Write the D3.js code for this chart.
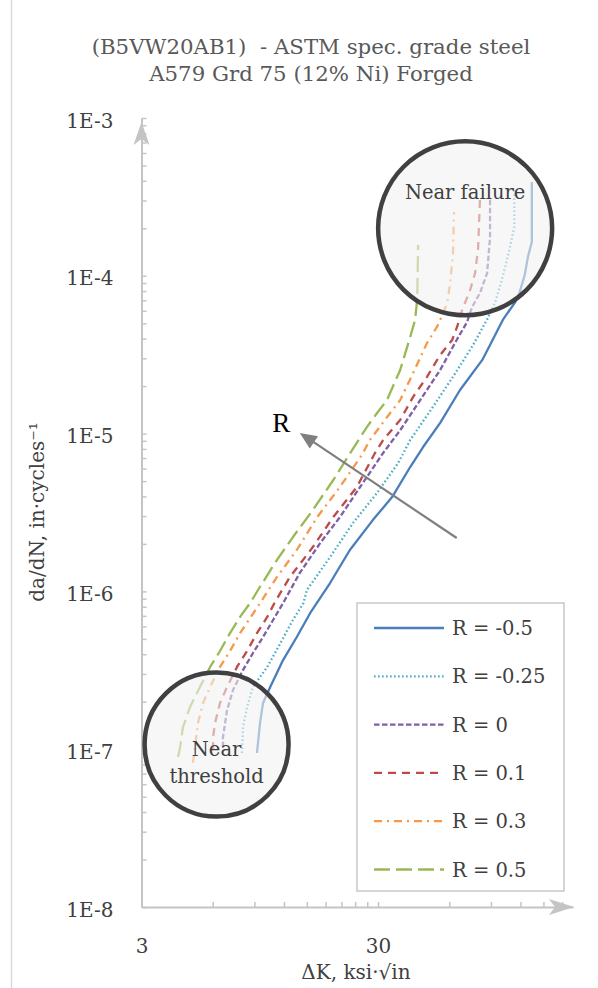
<!DOCTYPE html>
<html><head><meta charset="utf-8">
<script src="https://cdn.jsdelivr.net/npm/d3@7"></script>
<style>body{margin:0;background:#fff}svg{display:block}</style>
</head><body>
<svg id="c" width="598" height="988"></svg>
<script>
// ---------- data ----------
const titleLines = ["(B5VW20AB1)  - ASTM spec. grade steel", "A579 Grd 75 (12% Ni) Forged"];
const seriesNames = ["R = -0.5", "R = -0.25", "R = 0", "R = 0.1", "R = 0.3", "R = 0.5"];

const dK_Rm050 = [9.23, 9.51, 9.79, 10.5, 11.9, 13.6, 15.5, 18.8, 22.8, 28.5, 34.4, 41.0, 46.5, 54.9, 66.6, 82.6, 89.2, 101, 114, 119, 125, 129, 134, 134];
const da_Rm050 = [9.46e-8, 1.47e-7, 1.96e-7, 2.48e-7, 3.67e-7, 5.14e-7, 7.30e-7, 1.13e-6, 1.83e-6, 2.83e-6, 3.96e-6, 6.14e-6, 8.22e-6, 1.17e-5, 1.89e-5, 2.92e-5, 3.64e-5, 5.25e-5, 6.82e-5, 7.88e-5, 1.01e-4, 1.32e-4, 1.64e-4, 3.93e-4];

const dK_Rm025 = [7.98, 8.06, 8.38, 8.87, 10.2, 11.6, 13.1, 14.5, 15.0, 18.8, 23.5, 29.7, 36.5, 41.0, 51.2, 62.2, 75.6, 86.5, 93.6, 100, 106, 113, 113];
const da_Rm025 = [9.46e-8, 1.38e-7, 1.85e-7, 2.48e-7, 3.32e-7, 4.71e-7, 6.59e-7, 8.43e-7, 1.02e-6, 1.65e-6, 2.71e-6, 4.21e-6, 6.52e-6, 9.10e-6, 1.48e-5, 2.29e-5, 3.64e-5, 5.25e-5, 6.73e-5, 9.40e-5, 1.32e-4, 2.04e-4, 3.60e-4];

const dK_R000 = [6.63, 6.63, 6.90, 7.31, 8.06, 8.88, 9.79, 10.8, 11.9, 14.0, 17.1, 20.7, 25.2, 31.5, 37.2, 45.2, 54.9, 64.1, 71.3, 74.9, 80.9, 86.7, 89.2, 89.2];
const da_R000 = [1.03e-7, 1.19e-7, 1.77e-7, 2.37e-7, 3.18e-7, 4.07e-7, 5.14e-7, 6.59e-7, 8.43e-7, 1.31e-6, 2.03e-6, 2.96e-6, 4.59e-6, 7.53e-6, 1.05e-5, 1.63e-5, 2.53e-5, 3.86e-5, 5.09e-5, 6.34e-5, 7.78e-5, 1.04e-4, 1.76e-4, 3.16e-4];

const dK_R010 = [6.02, 6.02, 6.14, 6.44, 6.90, 7.60, 8.38, 9.23, 10.2, 11.0, 12.7, 15.9, 19.4, 24.4, 29.1, 31.5, 37.2, 42.2, 48.3, 54.9, 61.7, 64.7, 68.0, 73.5, 77.1, 79.4, 80.9];
const da_R010 = [9.89e-8, 1.19e-7, 1.47e-7, 1.96e-7, 2.48e-7, 3.32e-7, 4.19e-7, 5.44e-7, 6.89e-7, 8.57e-7, 1.23e-6, 1.91e-6, 2.96e-6, 4.59e-6, 7.53e-6, 9.10e-6, 1.22e-5, 1.71e-5, 2.29e-5, 3.15e-5, 3.92e-5, 4.74e-5, 6.07e-5, 8.13e-5, 1.04e-4, 1.48e-4, 3.11e-4];

const dK_R030 = [4.95, 5.05, 5.20, 5.46, 5.85, 6.44, 7.10, 7.83, 8.63, 9.51, 11.2, 13.6, 16.6, 20.7, 25.6, 27.7, 32.7, 37.2, 42.2, 48.3, 53.2, 54.9, 58.8, 60.5, 62.2, 62.8];
const da_R030 = [8.18e-8, 1.03e-7, 1.47e-7, 1.96e-7, 2.48e-7, 3.32e-7, 4.19e-7, 5.44e-7, 6.78e-7, 8.43e-7, 1.23e-6, 1.83e-6, 2.96e-6, 4.59e-6, 7.31e-6, 9.10e-6, 1.27e-5, 1.63e-5, 2.42e-5, 3.75e-5, 4.74e-5, 5.25e-5, 6.73e-5, 8.99e-5, 1.40e-4, 2.54e-4];

const dK_R050 = [4.28, 4.37, 4.49, 4.81, 5.30, 5.85, 6.44, 7.10, 7.83, 8.63, 9.51, 11.2, 13.1, 15.9, 19.4, 23.3, 26.9, 29.7, 32.7, 37.2, 41.0, 43.0, 43.9, 44.3];
const da_R050 = [8.93e-8, 1.03e-7, 1.38e-7, 1.85e-7, 2.48e-7, 3.32e-7, 4.19e-7, 5.44e-7, 6.89e-7, 8.43e-7, 1.07e-6, 1.58e-6, 2.21e-6, 3.28e-6, 5.08e-6, 7.87e-6, 1.10e-5, 1.35e-5, 1.63e-5, 2.53e-5, 4.09e-5, 5.25e-5, 7.03e-5, 1.57e-4];

const xMajorTicks = [3, 30];
const xTickLabels = ["3", "30"];
const yMajorTicks = [1e-3, 1e-4, 1e-5, 1e-6, 1e-7, 1e-8];
const yTickLabels = ["1E-3", "1E-4", "1E-5", "1E-6", "1E-7", "1E-8"];

// annotation anchors (data units)
const failureCircle = {dK: 70.0, da: 2.0e-4, label: "Near failure", labelDa: 3.4e-4};
const thresholdCircle = {dK: 6.23, da: 1.07e-7, label: ["Near", "threshold"], labelDa: [1.0e-7, 6.7e-8]};
const rArrow = {fromDK: 64.5, fromDa: 2.18e-6, toDK: 14.0, toDa: 1.01e-5, label: "R", labelDK: 11.7, labelDa: 1.17e-5};

// ---------- styles ----------
const colors = ["#4a7ebb", "#4bacc6", "#7f5fa6", "#be4b48", "#f59a4a", "#98b954"];
const dashes = [null, "1.6,2.4", "5.5,2.5", "8,6", "8,5,2,5", "16,6"];
const FONT = "'DejaVu Serif', 'Liberation Serif', serif";
const AXIS_COL = "#c4c4c4";

const svg = d3.select("#c");
const x = d3.scaleLog().domain([3, 200]).range([141.5, 573]);
const y = d3.scaleLog().domain([1e-8, 1e-3]).range([907, 118]);

// left chart-area border
svg.append("line").attr("x1", 11.5).attr("x2", 11.5).attr("y1", 0).attr("y2", 988)
  .attr("stroke", "#d9d9d9").attr("stroke-width", 1.5);

// title
svg.append("g").selectAll("text").data(titleLines).join("text")
  .attr("x", 311).attr("y", (d, i) => 54 + i * 27)
  .attr("text-anchor", "middle").attr("font-family", FONT).attr("font-size", 21.3)
  .style("white-space", "pre")
  .attr("fill", "#595959").text(d => d);

// minor tick values
const yMinor = [];
for (let k = -8; k <= -4; k++) for (let m = 2; m <= 9; m++) yMinor.push(m * Math.pow(10, k));
const xMinor = [];
for (let k = 0; k <= 1; k++) for (let m = 2; m <= 9; m++) { const v = 3 * m * Math.pow(10, k); if (v < 200) xMinor.push(v); }

// Y axis
const yAxis = d3.axisLeft(y).tickValues(yMajorTicks.concat(yMinor)).tickSize(-5).tickSizeOuter(0).tickPadding(28)
  .tickFormat(d => { const i = yMajorTicks.findIndex(t => Math.abs(t - d) / t < 1e-6); return i >= 0 ? yTickLabels[i] : ""; });
const gy = svg.append("g").attr("transform", "translate(141.5,0)").call(yAxis);
// X axis
const xAxis = d3.axisBottom(x).tickValues(xMajorTicks.concat(xMinor)).tickSize(-5).tickSizeOuter(0).tickPadding(32)
  .tickFormat(d => { const i = xMajorTicks.findIndex(t => Math.abs(t - d) / t < 1e-6); return i >= 0 ? xTickLabels[i] : ""; });
const gx = svg.append("g").attr("transform", "translate(0,907)").call(xAxis);

[gx, gy].forEach(g => {
  g.select(".domain").attr("stroke", AXIS_COL).attr("stroke-width", 2);
  g.selectAll(".tick line").attr("stroke", AXIS_COL).attr("stroke-width", 1.5);
  g.selectAll(".tick text").attr("font-family", FONT).attr("font-size", 20).attr("fill", "#404040");
});
gy.selectAll(".tick text").attr("dy", "0.45em");

// axis arrowheads (stealth)
svg.append("path")
  .attr("d", `M${x.range()[1] + 1},${y.range()[0]} L${x.range()[1] - 24},${y.range()[0] - 8} L${x.range()[1] - 18},${y.range()[0]} L${x.range()[1] - 24},${y.range()[0] + 8} Z`)
  .attr("fill", AXIS_COL);
svg.append("path")
  .attr("d", `M141.5,${y.range()[1] + 4} L133.5,${y.range()[1] + 27} L141.5,${y.range()[1] + 21} L149.5,${y.range()[1] + 27} Z`)
  .attr("fill", AXIS_COL);

// axis titles
svg.append("text").attr("x", 356).attr("y", 979).attr("text-anchor", "middle")
  .attr("font-family", FONT).attr("font-size", 20).attr("fill", "#404040").text("ΔK, ksi·√in");
svg.append("text").attr("transform", "translate(44,512) rotate(-90)").attr("text-anchor", "middle")
  .attr("font-family", FONT).attr("font-size", 20).attr("fill", "#404040").text("da/dN, in·cycles⁻¹");

// series
const seriesDK = [dK_Rm050, dK_Rm025, dK_R000, dK_R010, dK_R030, dK_R050];
const seriesDa = [da_Rm050, da_Rm025, da_R000, da_R010, da_R030, da_R050];
const series = seriesNames.map((n, i) => ({name: n, pts: seriesDK[i].map((k, j) => [k, seriesDa[i][j]]), color: colors[i], dash: dashes[i]}));
const line = d3.line().x(d => x(d[0])).y(d => y(d[1]));
svg.append("g").selectAll("path").data(series).join("path")
  .attr("d", d => line(d.pts)).attr("fill", "none").attr("stroke", d => d.color)
  .attr("stroke-width", 2.3).attr("stroke-dasharray", d => d.dash)
  .attr("stroke-linejoin", "round");

// circles
function circ(c, r) {
  svg.append("circle").attr("cx", x(c.dK)).attr("cy", y(c.da)).attr("r", r)
    .attr("fill", "#f2f2f2").attr("fill-opacity", 0.6).attr("stroke", "#404040").attr("stroke-width", 4.5);
}
circ(failureCircle, 87);
circ(thresholdCircle, 72);
svg.append("text").attr("x", x(failureCircle.dK)).attr("y", y(failureCircle.labelDa)).attr("dy", "0.35em")
  .attr("text-anchor", "middle").attr("font-family", FONT).attr("font-size", 19.5).attr("fill", "#404040").text(failureCircle.label);
svg.append("g").selectAll("text").data(thresholdCircle.label).join("text")
  .attr("x", x(thresholdCircle.dK)).attr("y", (d, i) => y(thresholdCircle.labelDa[i])).attr("dy", "0.35em")
  .attr("text-anchor", "middle").attr("font-family", FONT).attr("font-size", 19.5).attr("fill", "#404040").text(d => d);

// R arrow
const ax1 = x(rArrow.fromDK), ay1 = y(rArrow.fromDa), ax2 = x(rArrow.toDK), ay2 = y(rArrow.toDa);
const ang = Math.atan2(ay2 - ay1, ax2 - ax1);
const hl = 17, hw = 7.5;
const bx = ax2 - hl * Math.cos(ang), by = ay2 - hl * Math.sin(ang);
svg.append("line").attr("x1", ax1).attr("y1", ay1).attr("x2", bx + 3 * Math.cos(ang)).attr("y2", by + 3 * Math.sin(ang))
  .attr("stroke", "#808080").attr("stroke-width", 2.2);
svg.append("path").attr("d", `M${ax2},${ay2} L${bx - hw * Math.sin(ang)},${by + hw * Math.cos(ang)} L${bx + hw * Math.sin(ang)},${by - hw * Math.cos(ang)} Z`)
  .attr("fill", "#808080");
svg.append("text").attr("x", x(rArrow.labelDK)).attr("y", y(rArrow.labelDa)).attr("dy", "0.35em")
  .attr("text-anchor", "middle").attr("font-family", "'Liberation Serif', serif").attr("font-size", 27).attr("fill", "#000").text(rArrow.label);

// legend
const lg = svg.append("g");
lg.append("rect").attr("x", 357).attr("y", 603).attr("width", 207).attr("height", 288)
  .attr("fill", "#fff").attr("stroke", "#c8c8c8").attr("stroke-width", 1.5);
const rows = lg.selectAll("g.row").data(series).join("g").attr("class", "row")
  .attr("transform", (d, i) => `translate(0,${628 + i * 48.3})`);
rows.append("line").attr("x1", 374).attr("x2", 444).attr("y1", 0).attr("y2", 0)
  .attr("stroke", d => d.color).attr("stroke-width", 2.3).attr("stroke-dasharray", d => d.dash);
rows.append("text").attr("x", 452).attr("y", 0).attr("dy", "0.36em")
  .attr("font-family", FONT).attr("font-size", 19.5).attr("fill", "#404040").text(d => d.name);
</script>
</body></html>
